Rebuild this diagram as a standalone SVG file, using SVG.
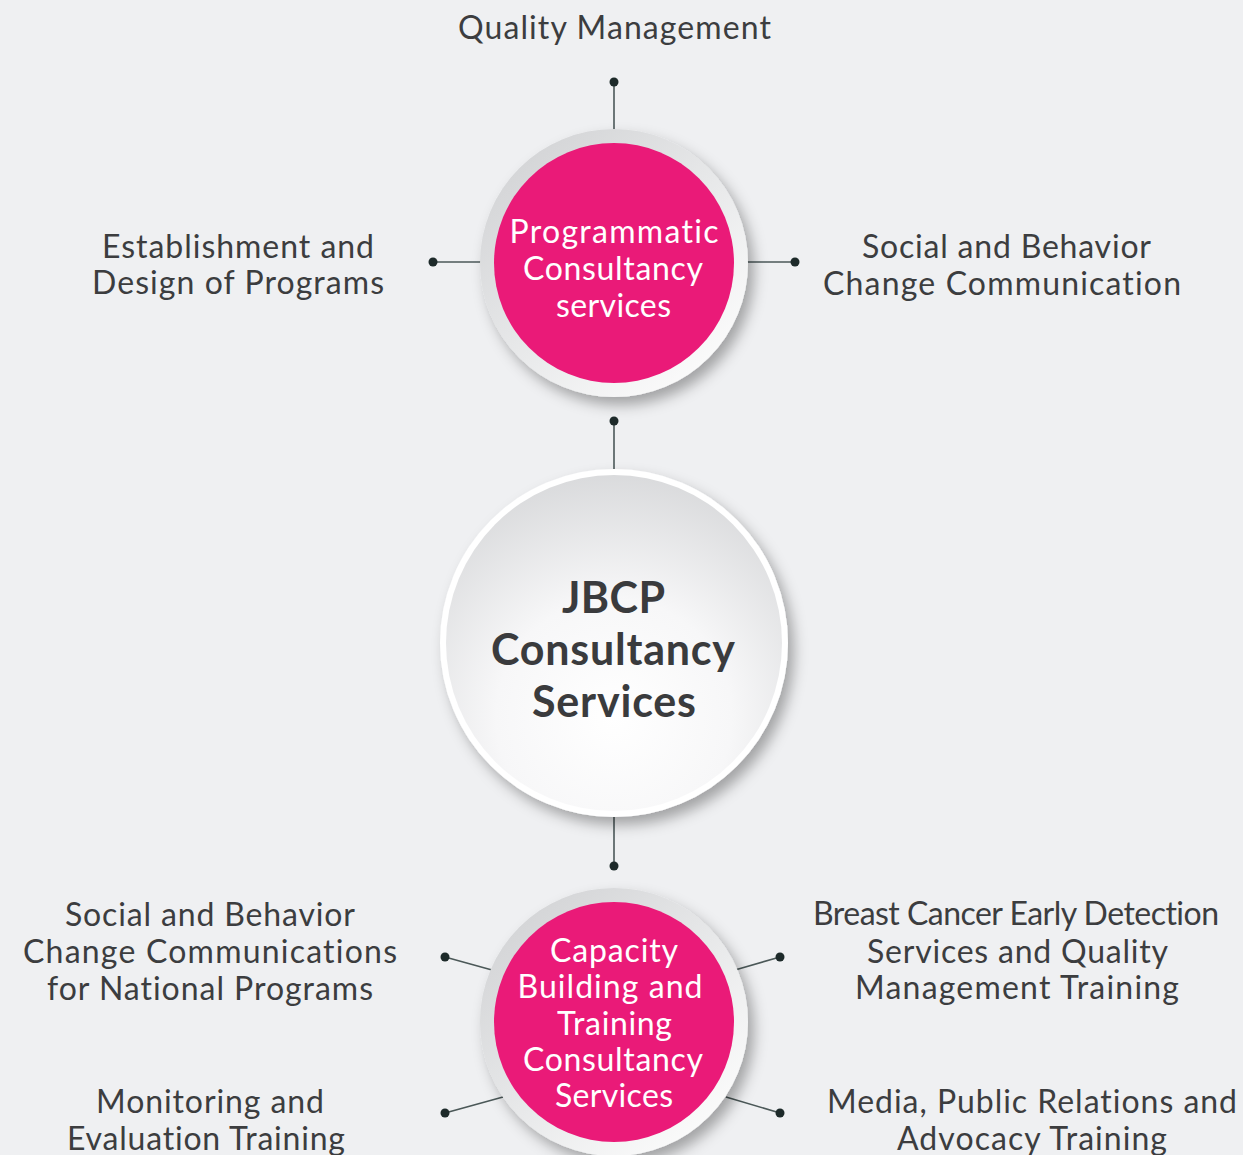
<svg xmlns="http://www.w3.org/2000/svg" width="1243" height="1155" viewBox="0 0 1243 1155">
  <defs>
    <style>
      text { font-variant-ligatures: none; }
      .label { font-family: "Lato", "Liberation Sans", sans-serif; font-size: 32px; fill: #3c3d3f; text-anchor: middle; }
      .pink-text { font-family: "Lato", "Liberation Sans", sans-serif; font-size: 32px; fill: #ffffff; text-anchor: middle; }
      .hub-text { font-family: "Lato", "Liberation Sans", sans-serif; font-size: 43px; font-weight: 700; fill: #3a3b3d; text-anchor: middle; }
      .wire { stroke: #4b5858; stroke-width: 1.6; fill: none; }
      .dot { fill: #1d2a2a; }
      .pink { fill: #ea1a78; }
    </style>
    <linearGradient id="ringGrad" x1="0.15" y1="0.1" x2="0.85" y2="0.9">
      <stop offset="0" stop-color="#d4d5d7"/>
      <stop offset="0.55" stop-color="#e9eaeb"/>
      <stop offset="1" stop-color="#fbfbfb"/>
    </linearGradient>
    <radialGradient id="hubGrad" cx="0.5" cy="0.72" r="0.78">
      <stop offset="0" stop-color="#ffffff"/>
      <stop offset="0.45" stop-color="#f7f7f8"/>
      <stop offset="1" stop-color="#d5d6d8"/>
    </radialGradient>
    <filter id="shadow" x="-30%" y="-30%" width="170%" height="170%">
      <feDropShadow dx="6" dy="8" stdDeviation="7" flood-color="#000000" flood-opacity="0.32"/>
    </filter>
  </defs>

  <rect width="1243" height="1155" fill="#eff0f2"/>

  <!-- connectors -->
  <g id="connectors">
    <line class="wire" x1="614" y1="82" x2="614" y2="130"/>
    <line class="wire" x1="433" y1="262" x2="482" y2="262"/>
    <line class="wire" x1="746" y1="262" x2="795" y2="262"/>
    <line class="wire" x1="614" y1="421" x2="614" y2="471"/>
    <line class="wire" x1="614" y1="815" x2="614" y2="866"/>
    <line class="wire" x1="445" y1="957" x2="492" y2="970"/>
    <line class="wire" x1="780" y1="957" x2="735" y2="970"/>
    <line class="wire" x1="445" y1="1113" x2="503" y2="1097"/>
    <line class="wire" x1="780" y1="1113" x2="726" y2="1097"/>
    <circle class="dot" cx="614" cy="82" r="4.5"/>
    <circle class="dot" cx="433" cy="262" r="4.5"/>
    <circle class="dot" cx="795" cy="262" r="4.5"/>
    <circle class="dot" cx="614" cy="421" r="4.5"/>
    <circle class="dot" cx="614" cy="866" r="4.5"/>
    <circle class="dot" cx="445" cy="957" r="4.5"/>
    <circle class="dot" cx="780" cy="957" r="4.5"/>
    <circle class="dot" cx="445" cy="1113" r="4.5"/>
    <circle class="dot" cx="780" cy="1113" r="4.5"/>
  </g>

  <!-- programmatic consultancy -->
  <g id="programmatic">
    <circle cx="614" cy="263" r="134" fill="url(#ringGrad)" filter="url(#shadow)"/>
    <circle class="pink" cx="614" cy="263" r="120"/>
    <text class="pink-text" x="614" y="243" textLength="209">Programmatic</text>
    <text class="pink-text" x="613" y="280" textLength="180">Consultancy</text>
    <text class="pink-text" x="613.5" y="317" textLength="115">services</text>
  </g>

  <!-- central hub -->
  <g id="hub">
    <circle cx="614" cy="643" r="174" fill="#ffffff" filter="url(#shadow)"/>
    <circle cx="614" cy="643" r="168" fill="url(#hubGrad)"/>
    <text class="hub-text" x="613.5" y="613" textLength="103">JBCP</text>
    <text class="hub-text" x="613" y="665" textLength="244">Consultancy</text>
    <text class="hub-text" x="614" y="717" textLength="164">Services</text>
  </g>

  <!-- capacity building -->
  <g id="capacity">
    <circle cx="614" cy="1022" r="134" fill="url(#ringGrad)" filter="url(#shadow)"/>
    <circle class="pink" cx="614" cy="1022" r="120"/>
    <text class="pink-text" x="614" y="962" textLength="128">Capacity</text>
    <text class="pink-text" x="610" y="998" textLength="185">Building and</text>
    <text class="pink-text" x="614.5" y="1035" textLength="115">Training</text>
    <text class="pink-text" x="613" y="1071" textLength="180">Consultancy</text>
    <text class="pink-text" x="614" y="1107" textLength="118">Services</text>
  </g>

  <!-- outer labels -->
  <g id="quality-management">
    <text class="label" x="614.5" y="39" textLength="313">Quality Management</text>
  </g>
  <g id="establishment">
    <text class="label" x="238" y="258" textLength="272">Establishment and</text>
    <text class="label" x="238" y="294" textLength="292">Design of Programs</text>
  </g>
  <g id="sbcc">
    <text class="label" x="1006.5" y="258" textLength="289">Social and Behavior</text>
    <text class="label" x="1002" y="295" textLength="358">Change Communication</text>
  </g>
  <g id="sbcc-national">
    <text class="label" x="210" y="926" textLength="290">Social and Behavior</text>
    <text class="label" x="210" y="963" textLength="374">Change Communications</text>
    <text class="label" x="210" y="1000" textLength="326">for National Programs</text>
  </g>
  <g id="monitoring">
    <text class="label" x="210" y="1113" textLength="228">Monitoring and</text>
    <text class="label" x="206" y="1150" textLength="278">Evaluation Training</text>
  </g>
  <g id="breast-cancer">
    <text class="label" x="1016" y="925" textLength="406">Breast Cancer Early Detection</text>
    <text class="label" x="1017.5" y="963" textLength="301">Services and Quality</text>
    <text class="label" x="1017" y="999" textLength="324">Management Training</text>
  </g>
  <g id="media">
    <text class="label" x="1032" y="1113" textLength="410">Media, Public Relations and</text>
    <text class="label" x="1032" y="1150" textLength="270">Advocacy Training</text>
  </g>
</svg>
